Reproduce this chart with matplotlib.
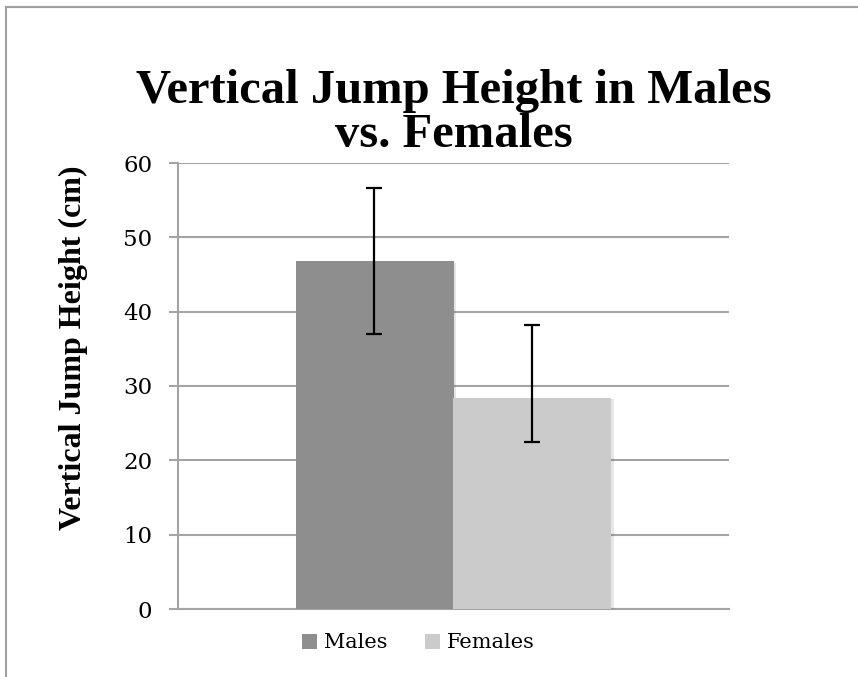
import matplotlib
matplotlib.use("Agg")
import matplotlib.pyplot as plt
import matplotlib.patheffects as pe
from matplotlib.lines import Line2D
from matplotlib.patches import Patch

# data
groups = ["Males", "Females"]
heights = [46.8, 28.4]
err_low = [9.8, 5.9]
err_high = [9.9, 9.8]
colors = ["#8e8e8e", "#cbcbcb"]
yticks = [0, 10, 20, 30, 40, 50, 60]

fig = plt.figure(figsize=(8.58, 6.77), dpi=100)
ax = fig.add_axes([178 / 858, 68 / 677, 551 / 858, 446 / 677])

width = 2 * 158 / 551
xs = [-width / 2, width / 2]
bars = ax.bar(xs, heights, width=width, color=colors, zorder=3)
for b in bars:
    b.set_path_effects([pe.SimplePatchShadow(offset=(2, -1), alpha=0.12), pe.Normal()])

ax.errorbar(xs, heights, yerr=[err_low, err_high], fmt="none", ecolor="black",
            elinewidth=1.6, capsize=5.8, capthick=1.6, zorder=4)

ax.set_xlim(-1, 1)
ax.set_ylim(0, 60)
ax.set_yticks(yticks)
ax.set_xticks([])
ax.yaxis.grid(True, color="#a4a4a4", linewidth=1.5, zorder=0)
ax.set_axisbelow(True)
for s in ["top", "right"]:
    ax.spines[s].set_visible(False)
for s in ["left", "bottom"]:
    ax.spines[s].set_color("#a4a4a4")
    ax.spines[s].set_linewidth(1.5)
ax.tick_params(axis="y", length=6.5, width=1.5, color="#a4a4a4", pad=12,
               labelsize=16.5)
for lab in ax.get_yticklabels():
    lab.set_fontfamily("DejaVu Serif")

# y label sits a bit above the axis centre in the reference
fig.text(73 / 858, 1 - 348 / 677, "Vertical Jump Height (cm)", rotation=90,
         ha="center", va="center", fontfamily="Liberation Serif",
         fontweight="bold", fontsize=23)

fig.text(0.5285, 0.833, "Vertical Jump Height in Males\nvs. Females",
         ha="center", va="center", fontfamily="Liberation Serif",
         fontweight="bold", fontsize=35, linespacing=1.0)

handles = [Patch(facecolor=c, edgecolor="none") for c in colors]
fig.legend(handles, groups, loc="center", bbox_to_anchor=(418 / 858, 1 - 643 / 677),
           ncol=2, frameon=False, prop={"family": "DejaVu Serif", "size": 15},
           handlelength=0.72, handleheight=0.72, handletextpad=0.33,
           columnspacing=1.8)

# chart border (left and top edges)
fig.add_artist(Line2D([5.5 / 858, 5.5 / 858], [0, 1 - 7 / 677], color="#a0a0a0",
                      linewidth=1.5))
fig.add_artist(Line2D([5.5 / 858, 1], [1 - 7 / 677, 1 - 7 / 677], color="#a0a0a0",
                      linewidth=1.5))

fig.savefig("out.png", dpi=100)
